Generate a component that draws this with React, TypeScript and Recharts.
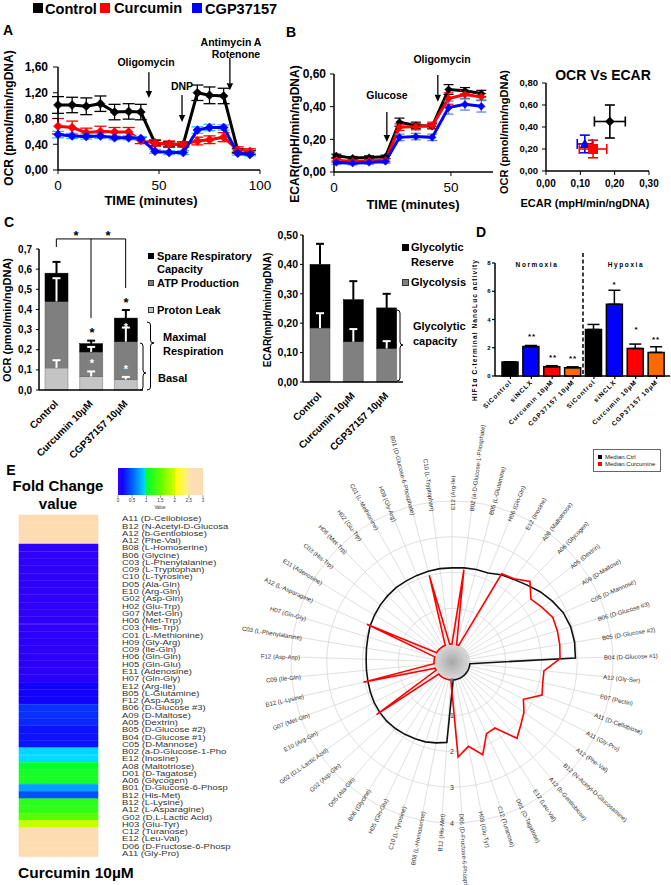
import React from 'react';
import {
  LineChart, Line, XAxis, YAxis, ErrorBar, ReferenceLine, ScatterChart, Scatter,
  BarChart, Bar, Cell, RadarChart, Radar, PolarGrid, PolarAngleAxis, PolarRadiusAxis,
} from 'recharts';

const FONT = '"Liberation Sans", Arial, Helvetica, sans-serif';

// ---------- Panel A : OCR time course ----------
const timeA = [0, 7, 14, 21, 28, 35, 41, 48, 55, 62, 69, 75, 82, 89, 95];
const ocrCtrl = [1.01, 1.01, 0.99, 1.03, 0.9, 0.91, 0.9, 0.42, 0.4, 0.4, 1.2, 1.16, 1.15, 0.3, 0.27];
const ocrCtrlErr = [0.13, 0.12, 0.13, 0.12, 0.12, 0.12, 0.12, 0.04, 0.04, 0.04, 0.12, 0.13, 0.12, 0.03, 0.03];
const ocrCur = [0.68, 0.66, 0.58, 0.6, 0.59, 0.59, 0.46, 0.42, 0.4, 0.4, 0.45, 0.47, 0.51, 0.31, 0.29];
const ocrCurErr = [0.12, 0.1, 0.07, 0.08, 0.07, 0.07, 0.05, 0.05, 0.05, 0.04, 0.06, 0.06, 0.07, 0.05, 0.04];
const ocrCgp = [0.55, 0.53, 0.52, 0.53, 0.5, 0.5, 0.49, 0.29, 0.27, 0.27, 0.62, 0.66, 0.66, 0.26, 0.24];
const ocrCgpErr = [0.05, 0.04, 0.04, 0.04, 0.03, 0.03, 0.03, 0.03, 0.03, 0.03, 0.05, 0.05, 0.04, 0.03, 0.02];
const ocrYTicks = [0, 0.2, 0.4, 0.6, 0.8, 1.0, 1.2, 1.4, 1.6];

// ---------- Panel B : ECAR time course ----------
const timeB = [1, 8, 15, 22, 28, 35, 42, 49, 56, 63];
const ecarCtrl = [0.099, 0.085, 0.089, 0.093, 0.305, 0.285, 0.28, 0.505, 0.497, 0.48];
const ecarCtrlErr = [0.01, 0.01, 0.01, 0.01, 0.025, 0.02, 0.015, 0.03, 0.02, 0.02];
const ecarCur = [0.072, 0.064, 0.068, 0.072, 0.274, 0.278, 0.285, 0.45, 0.474, 0.46];
const ecarCurErr = [0.01, 0.01, 0.01, 0.01, 0.02, 0.02, 0.02, 0.035, 0.025, 0.02];
const ecarCgp = [0.058, 0.054, 0.058, 0.064, 0.212, 0.217, 0.212, 0.394, 0.414, 0.402];
const ecarCgpErr = [0.01, 0.01, 0.01, 0.01, 0.02, 0.02, 0.02, 0.04, 0.035, 0.035];
const ecarYTicks = [0, 0.1, 0.2, 0.3, 0.4, 0.5, 0.6];

// ---------- OCR vs ECAR ----------
const scCtrl = [{ x: 0.186, y: 0.45, ex: 0.045, ey: 0.15 }];
const scCur = [{ x: 0.137, y: 0.2, ex: 0.04, ey: 0.08 }];
const scCgp = [{ x: 0.113, y: 0.246, ex: 0.022, ey: 0.08 }];

// ---------- Panel C : OCR stacked ----------
const cCats = ['Control', 'Curcumin 10µM', 'CGP37157 10µM'];
const ocrLeak = [0.11, 0.067, 0.052];
const ocrAtp = [0.33, 0.122, 0.188];
const ocrSpare = [0.14, 0.041, 0.117];
const ocrLeakErr = [0.038, 0.025, 0.013];
const ocrAtpErr = [0.115, 0.025, 0.07];
const ocrTotErr = [0.056, 0.015, 0.04];

// ---------- Panel C : ECAR stacked ----------
const glyc = [0.184, 0.137, 0.114];
const glycReserve = [0.216, 0.143, 0.138];
const glycErr = [0.05, 0.043, 0.025];
const glycTotErr = [0.07, 0.063, 0.048];

// ---------- Panel D ----------
const hifKeys = ['n1', 'n2', 'n3', 'n4', 'h1', 'h2', 'h3', 'h4'];
const hifLabels = ['SiControl', 'siNCLX', 'Curcumin 10µM', 'CGP37157 10µM', 'SiControl', 'siNCLX', 'Curcumin 10µM', 'CGP37157 10µM'];
const hifVals = [1.0, 2.08, 0.66, 0.59, 3.29, 5.08, 1.95, 1.67];
const hifErr = [0, 0.08, 0.07, 0.06, 0.36, 0.99, 0.31, 0.4];
const hifColors = ['#000000', '#0000ff', '#ff0000', '#ff6a00', '#000000', '#0000ff', '#ff0000', '#ff6a00'];

// ---------- Panel E : heatmap ----------
const heatNames = [
  'A11 (D-Cellobiose)', 'B12 (N-Acetyl-D-Glucosa', 'A12 (b-Gentiobiose)', 'A12 (Phe-Val)', 'B08 (L-Homoserine)',
  'B06 (Glycine)', 'C03 (L-Phenylalanine)', 'C09 (L-Tryptophan)', 'C10 (L-Tyrosine)', 'D05 (Ala-Gln)',
  'E10 (Arg-Gln)', 'G02 (Asp-Gln)', 'H02 (Glu-Trp)', 'G07 (Met-Gln)', 'H06 (Met-Trp)', 'C03 (His-Trp)',
  'C01 (L-Methionine)', 'H09 (Gly-Arg)', 'C09 (Ile-Gln)', 'H06 (Gln-Gln)', 'H05 (Gln-Glu)', 'E11 (Adenosine)',
  'H07 (Gln-Gly)', 'E12 (Arg-Ile)', 'B05 (L-Glutamine)', 'F12 (Asp-Asp)', 'B06 (D-Glucose #3)', 'A09 (D-Maltose)',
  'A05 (Dextrin)', 'B05 (D-Glucose #2)', 'B04 (D-Glucose #1)', 'C05 (D-Mannose)', 'B02 (a-D-Glucose-1-Pho',
  'E12 (Inosine)', 'A08 (Maltotriose)', 'D01 (D-Tagatose)', 'A06 (Glycogen)', 'B01 (D-Glucose-6-Phosp',
  'B12 (His-Met)', 'B12 (L-Lysine)', 'A12 (L-Asparagine)', 'G02 (D,L-Lactic Acid)', 'H03 (Glu-Tyr)',
  'C12 (Turanose)', 'E12 (Leu-Val)', 'D06 (D-Fructose-6-Phosp', 'A11 (Gly-Pro)',
];
const heatFold = [
  3, 3, 3, 3, 0.04, 0.04, 0.04, 0.04, 0.04, 0.04, 0.04, 0.04, 0.04, 0.04, 0.04, 0.04,
  0.05, 0.05, 0.05, 0.05, 0.05, 0.05, 0.06, 0.14, 0.14, 0.14, 0.33, 0.33, 0.3, 0.22, 0.22, 0.22,
  0.95, 0.97, 1.03, 1.1, 1.12, 0.75, 0.45, 1.22, 1.25, 1.45, 1.95, 3, 3, 3, 3,
];
const colorStops: [number, string][] = [
  [0, '#3a00f8'], [0.15, '#1000ff'], [0.5, '#0060ff'], [0.999, '#00e4ff'],
  [1.0, '#00ff30'], [1.5, '#60ff00'], [1.999, '#d0ff00'], [2.0, '#ffff00'],
  [2.45, '#fff080'], [2.5, '#fde0b5'], [3, '#fddcb2'],
];
const cbTicks = [0, 0.5, 1, 1.5, 2, 2.5, 3];

// ---------- Panel E : radar ----------
const radarNames = [
  'E12 (Arg-Ile)', 'B02 (a-D-Glucose-1-Phosphate)', 'B05 (L-Glutamine)', 'H06 (Gln-Gln)', 'E12 (Inosine)',
  'A08 (Maltotriose)', 'A06 (Glycogen)', 'A05 (Dextrin)', 'A09 (D-Maltose)', 'C05 (D-Mannose)',
  'B06 (D-Glucose #3)', 'B05 (D-Glucose #2)', 'B04 (D-Glucose #1)', 'A12 (Gly-Ser)', 'E07 (Pectin)',
  'A11 (D-Cellobiose)', 'A11 (Gly-Pro)', 'A12 (Phe-Val)', 'B12 (N-Acetyl-D-Glucosamine)', 'A12 (b-Gentiobiose)',
  'E12 (Leu-Val)', 'D01 (D-Tagatose)', 'C12 (Turanose)', 'H03 (Glu-Tyr)', 'D06 (D-Fructose-6-Phosphate)',
  'B12 (His-Met)', 'B08 (L-Homoserine)', 'C10 (L-Tyrosine)', 'H05 (Gln-Glu)', 'B06 (Glycine)', 'D05 (Ala-Gln)',
  'G02 (Asp-Gln)', 'G02 (D,L-Lactic Acid)', 'E10 (Arg-Gln)', 'G07 (Met-Gln)', 'B12 (L-Lysine)', 'C09 (Ile-Gln)',
  'F12 (Asp-Asp)', 'C03 (L-Phenylalanine)', 'H07 (Gln-Gly)', 'A12 (L-Asparagine)', 'E11 (Adenosine)',
  'C03 (His-Trp)', 'H06 (Met-Trp)', 'H02 (Glu-Trp)', 'C01 (L-Methionine)', 'H09 (Gly-Arg)',
  'B01 (D-Glucose-6-Phosphate)', 'C10 (L-Tryptophan)',
];
const medianCtrl = [
  2.13, 2.15, 2.17, 2.18, 2.3, 2.38, 2.5, 2.65, 2.78, 2.9, 2.96, 2.97, 2.95,
  0, 0, 0, 0, 0, 0, 0, 0, 0, 0, 0, 0,
  1.75, 1.8, 1.85, 1.88, 1.91, 1.94, 1.96, 1.96, 1.95, 1.93, 1.91, 1.9, 1.9, 1.92, 1.95, 2.0,
  2.03, 2.06, 2.08, 2.1, 2.1, 2.11, 2.12, 2.13,
];
const medianCur = [
  0, 2.1, 0, 0, 2.33, 2.4, 2.63, 2.32, 2.44, 2.58, 2.57, 2.55, 2.52, 2.08, 2.1, 2.18, 1.75, 1.95,
  2.1, 2.3, 1.7, 1.72, 2.23, 1.9, 2.16,
  0, 0, 0, 0, 0, 0, 0, 2.07, 0, 0, 2.04, 0, 0, 0, 0, 2.1, 0, 0, 0, 0, 0, 0, 2.0, 0,
];

// ---------- derived tables ----------
const dataA = timeA.map((t, i) => ({ t, ctrl: ocrCtrl[i], ctrlE: ocrCtrlErr[i], cur: ocrCur[i], curE: ocrCurErr[i], cgp: ocrCgp[i], cgpE: ocrCgpErr[i] }));
const dataB = timeB.map((t, i) => ({ t, ctrl: ecarCtrl[i], ctrlE: ecarCtrlErr[i], cur: ecarCur[i], curE: ecarCurErr[i], cgp: ecarCgp[i], cgpE: ecarCgpErr[i] }));
const dataOcr = cCats.map((name, i) => ({ name, leak: ocrLeak[i], atp: ocrAtp[i], spare: ocrSpare[i], leakE: ocrLeakErr[i], atpE: ocrAtpErr[i], totE: ocrTotErr[i] }));
const dataEcar = cCats.map((name, i) => ({ name, glyc: glyc[i], res: glycReserve[i], glycE: glycErr[i], totE: glycTotErr[i] }));
const dataHif = hifKeys.map((key, i) => ({ key, v: hifVals[i], e: hifErr[i] }));
const dataHeat = heatNames.map((name, i) => ({ name, fold: heatFold[i] }));
const dataRadar = radarNames.map((name, i) => ({ name, ctrl: medianCtrl[i], cur: medianCur[i] }));
const hifLabelOf: Record<string, string> = Object.fromEntries(hifKeys.map((k, i) => [k, hifLabels[i]]));

const hex = (c: string) => [1, 3, 5].map((o) => parseInt(c.slice(o, o + 2), 16));
function foldColor(v: number) {
  for (let i = 0; i < colorStops.length - 1; i++) {
    const [a, ca] = colorStops[i];
    const [b, cb] = colorStops[i + 1];
    if (v >= a && v <= b) {
      const t = b === a ? 0 : (v - a) / (b - a);
      const A = hex(ca), B = hex(cb);
      const m = A.map((x, k) => Math.round(x + (B[k] - x) * t));
      return `rgb(${m[0]},${m[1]},${m[2]})`;
    }
  }
  return colorStops[colorStops.length - 1][1];
}

const c2 = (v: number) => v.toFixed(2).replace('.', ',');
const c1 = (v: number) => v.toFixed(1).replace('.', ',');
const AX = { stroke: '#000', strokeWidth: 1.5 };
const boldTick = (size: number) => ({ fontSize: size, fontWeight: 700, fill: '#000', fontFamily: FONT });

// ---------- shapes ----------
const diamondDot = (color: string, r: number) => (p: any) => {
  const { cx, cy, index } = p;
  if (cx == null || cy == null) return <g key={`e${index}`} />;
  return <polygon key={`d${index}`} points={`${cx},${cy - r} ${cx + r},${cy} ${cx},${cy + r} ${cx - r},${cy}`} fill={color} stroke={color} strokeWidth={0.5} />;
};

const Arrow = (p: any) => {
  const { x1, y1, x2, y2 } = p;
  const ang = Math.atan2(y2 - y1, x2 - x1);
  const L = 7, W = 3.2;
  const bx = x2 - L * Math.cos(ang), by = y2 - L * Math.sin(ang);
  const px = -Math.sin(ang) * W, py = Math.cos(ang) * W;
  return (
    <g>
      <line x1={x1} y1={y1} x2={bx} y2={by} stroke="#000" strokeWidth={1.3} />
      <polygon points={`${x2},${y2} ${bx + px},${by + py} ${bx - px},${by - py}`} fill="#000" />
    </g>
  );
};

const DiamondShape = (p: any) => { const { cx, cy } = p; const r = 4.8; return <polygon points={`${cx},${cy - r} ${cx + r},${cy} ${cx},${cy + r} ${cx - r},${cy}`} fill="#000" />; };
const SquareShape = (p: any) => { const { cx, cy } = p; return <rect x={cx - 5} y={cy - 5} width={10} height={10} fill="#ff0000" />; };
const TriShape = (p: any) => { const { cx, cy } = p; return <polygon points={`${cx},${cy - 5.5} ${cx + 5},${cy + 4} ${cx - 5},${cy + 4}`} fill="#0000ff" />; };

const tee = (cx: number, y1: number, y2: number, color: string, k: string, half = 4) => (
  <g key={k}>
    <line x1={cx} x2={cx} y1={y1} y2={y2} stroke={color} strokeWidth={2} />
    <line x1={cx - half} x2={cx + half} y1={y2} y2={y2} stroke={color} strokeWidth={2} />
  </g>
);

const OcrTopShape = (p: any) => {
  const { x, y, width, height, payload } = p;
  const ppu = height / payload.spare;
  const top = payload.leak + payload.atp + payload.spare;
  const py = (v: number) => y + (top - v) * ppu;
  const cx = x + width / 2;
  const atpTop = payload.leak + payload.atp;
  return (
    <g>
      {tee(cx, py(top), py(top + payload.totE), '#000', 'a')}
      <rect x={x} y={y} width={width} height={height} fill="#000" stroke="#000" strokeWidth={0.5} />
      {tee(cx, py(atpTop), py(atpTop + payload.atpE), '#fff', 'b')}
      {tee(cx, py(payload.leak), py(payload.leak + payload.leakE), '#fff', 'c')}
    </g>
  );
};

const EcarTopShape = (p: any) => {
  const { x, y, width, height, payload } = p;
  const ppu = height / payload.res;
  const top = payload.glyc + payload.res;
  const py = (v: number) => y + (top - v) * ppu;
  const cx = x + width / 2;
  return (
    <g>
      {tee(cx, py(top), py(top + payload.totE), '#000', 'a')}
      <rect x={x} y={y} width={width} height={height} fill="#000" stroke="#000" strokeWidth={0.5} />
      {tee(cx, py(payload.glyc), py(payload.glyc + payload.glycE), '#fff', 'b')}
    </g>
  );
};

const rotTick = (size: number, ls = 0, map?: Record<string, string>) => (p: any) => {
  const label = map ? map[p.payload.value] : p.payload.value;
  return (
    <g transform={`translate(${p.x},${p.y})`}>
      <text x={0} y={0} dy={size * 0.35} textAnchor="end" transform="rotate(-45)" fontSize={size} fontWeight={700} fontFamily={FONT} letterSpacing={ls} fill="#000">{label}</text>
    </g>
  );
};

const HeatTick = (p: any) => (
  <text transform={`translate(${p.x + 11},${p.y}) scale(1.3,1)`} x={0} y={0} dy={2.6} textAnchor="start" fontSize={7.3} fill="#333" fontFamily={FONT}>{p.payload.value}</text>
);

const RadarTick = (p: any) => {
  let a = ((p.payload.coordinate % 360) + 360) % 360;
  if (a > 180) a -= 360;
  const rad = (a * Math.PI) / 180;
  const x0 = p.x - 17 * Math.cos(rad);
  const y0 = p.y + 17 * Math.sin(rad);
  const right = a >= -90 && a <= 90;
  const rot = right ? -a : 180 - a;
  return (
    <text x={x0} y={y0} transform={`rotate(${rot},${x0},${y0})`} textAnchor={right ? 'start' : 'end'} dominantBaseline="central" fontSize={6.1} fill="#333" fontFamily={FONT}>{p.payload.value}</text>
  );
};

const RadiusTick = (p: any) => (
  <text x={p.x} y={p.y} dy={2.5} textAnchor="middle" fontSize={7} fill={p.payload.value === 0 ? '#4a6a9a' : '#333'} fontFamily={FONT}>{p.payload.value}</text>
);

// ---------- text helper ----------
const Txt = ({ x, y, s, size = 12, bold = true, anchor = 'middle', rot = 0, color = '#000', ls = 0, family = FONT }: any) => {
  const tx = anchor === 'middle' ? '-50%' : anchor === 'end' ? '-100%' : '0%';
  return (
    <div style={{ position: 'absolute', left: x, top: y, transform: `translate(${tx}, -50%) rotate(${rot}deg)`, fontSize: size, fontWeight: bold ? 700 : 400, color, fontFamily: family, whiteSpace: 'nowrap', lineHeight: 1, letterSpacing: ls }}>{s}</div>
  );
};
const Sq = ({ x, y, w, h, c, b = 'none' }: any) => (
  <div style={{ position: 'absolute', left: x, top: y, width: w, height: h, background: c, border: b, boxSizing: 'border-box' }} />
);

const brace = (x: number, y1: number, y2: number, ym: number, w: number) => {
  const m = x + w / 2, r = 3;
  return `M ${x} ${y1} Q ${m} ${y1} ${m} ${y1 + r} L ${m} ${ym - r} Q ${m} ${ym} ${x + w} ${ym} Q ${m} ${ym} ${m} ${ym + r} L ${m} ${y2 - r} Q ${m} ${y2} ${x} ${y2}`;
};

const abs = (left: number, top: number) => ({ position: 'absolute' as const, left, top });

export default function App() {
  return (
    <div style={{ position: 'absolute', left: 0, top: 0, width: 671, height: 885, background: '#fff', overflow: 'hidden', fontFamily: FONT }}>
      <svg width={0} height={0} style={{ position: 'absolute' }}>
        <defs>
          <linearGradient id="cbg" x1="0" y1="0" x2="1" y2="0">
            {colorStops.map(([v, c], i) => <stop key={i} offset={v / 3} stopColor={c} />)}
          </linearGradient>
        </defs>
      </svg>

      {/* top legend */}
      <Sq x={33} y={3} w={10} h={10} c="#000" />
      <Txt x={45} y={9} s="Control" size={14.6} anchor="start" />
      <Sq x={100} y={3} w={10} h={10} c="#ff0000" />
      <Txt x={114} y={8} s="Curcumin" size={14.6} anchor="start" />
      <Sq x={192} y={3} w={10} h={10} c="#0000ff" />
      <Txt x={205} y={9} s="CGP37157" size={14.6} anchor="start" />

      {/* Panel A */}
      <div style={abs(0, 0)}>
        <LineChart width={280} height={215} data={dataA} margin={{ top: 67, right: 20, left: 0, bottom: 0 }}>
          <XAxis dataKey="t" type="number" domain={[0, 100]} ticks={[0, 50, 100]} height={45} tick={{ fontSize: 13.5, fill: '#000', fontFamily: FONT }} tickSize={4} tickMargin={6} axisLine={AX} tickLine={{ stroke: '#000' }} />
          <YAxis type="number" domain={[0, 1.6]} ticks={ocrYTicks} tickFormatter={c2} width={58} tick={boldTick(12)} tickSize={5} tickMargin={5} axisLine={AX} tickLine={{ stroke: '#000' }} />
          <Line dataKey="ctrl" stroke="#000" strokeWidth={3} dot={diamondDot('#000', 4.5)} isAnimationActive={false}>
            <ErrorBar dataKey="ctrlE" width={6} stroke="#000" strokeWidth={1.3} />
          </Line>
          <Line dataKey="cur" stroke="#ff0000" strokeWidth={3} dot={diamondDot('#ff0000', 4.5)} isAnimationActive={false}>
            <ErrorBar dataKey="curE" width={6} stroke="#ff0000" strokeWidth={1.3} />
          </Line>
          <Line dataKey="cgp" stroke="#0000ff" strokeWidth={3} dot={diamondDot('#0000ff', 4.5)} isAnimationActive={false}>
            <ErrorBar dataKey="cgpE" width={6} stroke="#33bbff" strokeWidth={1.3} />
          </Line>
          <ReferenceLine segment={[{ x: 45, y: 1.52 }, { x: 45, y: 1.12 }]} shape={Arrow} ifOverflow="visible" />
          <ReferenceLine segment={[{ x: 61.4, y: 1.165 }, { x: 61.4, y: 0.745 }]} shape={Arrow} ifOverflow="visible" />
          <ReferenceLine segment={[{ x: 85.1, y: 1.74 }, { x: 85.1, y: 1.24 }]} shape={Arrow} ifOverflow="visible" />
        </LineChart>
      </div>
      <Txt x={8} y={30} s="A" size={14} />
      <Txt x={9} y={118} s="OCR (pmol/min/ngDNA)" size={12} rot={-90} />
      <Txt x={151} y={200} s="TIME (minutes)" size={13} />
      <Txt x={146} y={62} s="Oligomycin" size={10.5} />
      <Txt x={182} y={86} s="DNP" size={10.5} />
      <Txt x={231} y={42} s="Antimycin A" size={10.5} />
      <Txt x={236} y={54} s="Rotenone" size={10.5} />

      {/* Panel B ECAR */}
      <div style={abs(280, 0)}>
        <LineChart width={230} height={215} data={dataB} margin={{ top: 74, right: 17, left: 0, bottom: 0 }}>
          <XAxis dataKey="t" type="number" domain={[0, 68]} ticks={[0, 50]} height={43} tick={{ fontSize: 13.5, fill: '#000', fontFamily: FONT }} tickSize={4} tickMargin={6} axisLine={AX} tickLine={{ stroke: '#000' }} />
          <YAxis type="number" domain={[0, 0.6]} ticks={ecarYTicks} tickFormatter={c2} width={54} tick={boldTick(12)} tickSize={4} tickMargin={4} axisLine={AX} tickLine={{ stroke: '#000' }} />
          <Line dataKey="ctrl" stroke="#000" strokeWidth={3} dot={diamondDot('#000', 3.8)} isAnimationActive={false}>
            <ErrorBar dataKey="ctrlE" width={5} stroke="#000" strokeWidth={1.2} />
          </Line>
          <Line dataKey="cur" stroke="#ff0000" strokeWidth={3} dot={diamondDot('#ff0000', 3.8)} isAnimationActive={false}>
            <ErrorBar dataKey="curE" width={5} stroke="#ff0000" strokeWidth={1.2} />
          </Line>
          <Line dataKey="cgp" stroke="#0000ff" strokeWidth={3} dot={diamondDot('#0000ff', 3.8)} isAnimationActive={false}>
            <ErrorBar dataKey="cgpE" width={5} stroke="#5a7dd8" strokeWidth={1.2} />
          </Line>
          <ReferenceLine segment={[{ x: 22.6, y: 0.367 }, { x: 22.6, y: 0.184 }]} shape={Arrow} ifOverflow="visible" />
          <ReferenceLine segment={[{ x: 44.4, y: 0.594 }, { x: 44.4, y: 0.43 }]} shape={Arrow} ifOverflow="visible" />
        </LineChart>
      </div>
      <Txt x={291} y={32} s="B" size={14} />
      <Txt x={295} y={134} s="ECAR(mpH/min/ngDNA)" size={12} rot={-90} />
      <Txt x={413} y={204} s="TIME (minutes)" size={13} />
      <Txt x={387} y={95} s="Glucose" size={10.5} />
      <Txt x={442} y={59} s="Oligomycin" size={10.5} />

      {/* OCR vs ECAR scatter */}
      <div style={abs(500, 60)}>
        <ScatterChart width={171} height={155} margin={{ top: 23, right: 22, left: 0, bottom: 0 }}>
          <XAxis type="number" dataKey="x" domain={[0, 0.3]} ticks={[0, 0.1, 0.2, 0.3]} tickFormatter={c2} height={44} tick={boldTick(10)} tickSize={4} tickMargin={5} axisLine={AX} tickLine={{ stroke: '#000' }} />
          <YAxis type="number" dataKey="y" domain={[0, 0.8]} ticks={[0, 0.2, 0.4, 0.6, 0.8]} tickFormatter={c2} width={46} tick={boldTick(9.5)} tickSize={4} tickMargin={4} axisLine={AX} tickLine={{ stroke: '#000' }} />
          <Scatter data={scCgp} shape={TriShape} isAnimationActive={false}>
            <ErrorBar dataKey="ex" direction="x" width={5} stroke="#0000ff" strokeWidth={1.6} />
            <ErrorBar dataKey="ey" direction="y" width={5} stroke="#0000ff" strokeWidth={1.6} />
          </Scatter>
          <Scatter data={scCur} shape={SquareShape} isAnimationActive={false}>
            <ErrorBar dataKey="ex" direction="x" width={5} stroke="#ff0000" strokeWidth={1.6} />
            <ErrorBar dataKey="ey" direction="y" width={5} stroke="#ff0000" strokeWidth={1.6} />
          </Scatter>
          <Scatter data={scCtrl} shape={DiamondShape} isAnimationActive={false}>
            <ErrorBar dataKey="ex" direction="x" width={5} stroke="#000" strokeWidth={1.6} />
            <ErrorBar dataKey="ey" direction="y" width={5} stroke="#000" strokeWidth={1.6} />
          </Scatter>
        </ScatterChart>
      </div>
      <Txt x={603} y={75} s="OCR Vs ECAR" size={14} />
      <Txt x={504} y={132} s="OCR (pmol/min/ngDNA)" size={11} rot={-90} />
      <Txt x={585} y={203} s="ECAR (mpH/min/ngDNA)" size={11} />

      {/* Panel C OCR stacked */}
      <div style={abs(0, 225)}>
        <BarChart width={260} height={245} data={dataOcr} margin={{ top: 24, right: 117, left: 0, bottom: 0 }} barSize={23}>
          <XAxis dataKey="name" interval={0} height={80} tick={rotTick(10)} tickLine={false} tickMargin={6} axisLine={AX} />
          <YAxis type="number" domain={[0, 0.7]} ticks={[0, 0.1, 0.2, 0.3, 0.4, 0.5, 0.6, 0.7]} tickFormatter={c1} width={39} tick={boldTick(10)} tickSize={3} tickMargin={4} axisLine={AX} tickLine={{ stroke: '#000' }} />
          <Bar dataKey="leak" stackId="a" fill="#c4c4c4" stroke="#777" strokeWidth={0.5} isAnimationActive={false} />
          <Bar dataKey="atp" stackId="a" fill="#7f7f7f" stroke="#555" strokeWidth={0.5} isAnimationActive={false} />
          <Bar dataKey="spare" stackId="a" fill="#000" shape={OcrTopShape} isAnimationActive={false} />
          <ReferenceLine segment={[{ x: 'Control', y: 0.75 }, { x: 'CGP37157 10µM', y: 0.75 }]} stroke="#000" strokeWidth={1} ifOverflow="visible" />
          <ReferenceLine segment={[{ x: 'Control', y: 0.75 }, { x: 'Control', y: 0.71 }]} stroke="#000" strokeWidth={1} ifOverflow="visible" />
          <ReferenceLine segment={[{ x: 'Curcumin 10µM', y: 0.75 }, { x: 'Curcumin 10µM', y: 0.357 }]} stroke="#000" strokeWidth={1} ifOverflow="visible" />
          <ReferenceLine segment={[{ x: 'CGP37157 10µM', y: 0.75 }, { x: 'CGP37157 10µM', y: 0.506 }]} stroke="#000" strokeWidth={1} ifOverflow="visible" />
        </BarChart>
      </div>
      <Txt x={9} y={222} s="C" size={14} />
      <Txt x={7} y={320} s="OCR (pmol/min/ngDNA)" size={11} rot={-90} />
      <Txt x={76} y={235} s="*" size={13} />
      <Txt x={108} y={235} s="*" size={13} />
      <Txt x={92} y={332} s="*" size={13} />
      <Txt x={126} y={302} s="*" size={13} />
      <Txt x={92} y={363} s="*" size={11} color="#fff" />
      <Txt x={126} y={327} s="*" size={11} color="#fff" />
      <Txt x={126} y={369} s="*" size={11} color="#fff" />
      <Sq x={148} y={253} w={6} h={6} c="#000" />
      <Txt x={157} y={256} s="Spare Respiratory" size={11} anchor="start" />
      <Txt x={157} y={269} s="Capacity" size={11} anchor="start" />
      <Sq x={148} y={280} w={6} h={6} c="#7f7f7f" b="0.5px solid #333" />
      <Txt x={157} y={283} s="ATP Production" size={11} anchor="start" />
      <Sq x={148} y={307} w={6} h={6} c="#c4c4c4" b="0.5px solid #333" />
      <Txt x={157} y={310} s="Proton Leak" size={11} anchor="start" />
      <Txt x={163} y={337} s="Maximal" size={11} anchor="start" />
      <Txt x={163} y={351} s="Respiration" size={11} anchor="start" />
      <Txt x={158} y={378} s="Basal" size={11} anchor="start" />

      {/* Panel C ECAR stacked */}
      <div style={abs(250, 220)}>
        <BarChart width={230} height={245} data={dataEcar} margin={{ top: 15, right: 77, left: 0, bottom: 0 }} barSize={20}>
          <XAxis dataKey="name" interval={0} height={83} tick={rotTick(10)} tickLine={false} tickMargin={6} axisLine={AX} />
          <YAxis type="number" domain={[0, 0.5]} ticks={[0, 0.05, 0.1, 0.15, 0.2, 0.25, 0.3, 0.35, 0.4, 0.45, 0.5]} tickFormatter={c2} width={53} tick={boldTick(10.5)} tickSize={3} tickMargin={2} axisLine={AX} tickLine={{ stroke: '#000' }} />
          <Bar dataKey="glyc" stackId="a" fill="#808080" stroke="#555" strokeWidth={0.5} isAnimationActive={false} />
          <Bar dataKey="res" stackId="a" fill="#000" shape={EcarTopShape} isAnimationActive={false} />
        </BarChart>
      </div>
      <Txt x={268} y={310} s="ECAR(mpH/min/ngDNA)" size={10} rot={-90} />
      <Sq x={402} y={244} w={7} h={7} c="#000" />
      <Txt x={411} y={247} s="Glycolytic" size={11} anchor="start" />
      <Txt x={411} y={262} s="Reserve" size={11} anchor="start" />
      <Sq x={402} y={279} w={7} h={7} c="#808080" b="0.5px solid #333" />
      <Txt x={411} y={282} s="Glycolysis" size={11} anchor="start" />
      <Txt x={413} y={326} s="Glycolytic" size={11} anchor="start" />
      <Txt x={413} y={341} s="capacity" size={11} anchor="start" />

      {/* Panel D */}
      <div style={abs(470, 240)}>
        <BarChart width={201} height={215} data={dataHif} margin={{ top: 23, right: 1, left: 0, bottom: 0 }} barSize={16}>
          <XAxis dataKey="key" interval={0} height={79} padding={{ left: 5, right: 3 }} tick={rotTick(6.5, 0.9, hifLabelOf)} tickSize={3} tickMargin={2} axisLine={AX} tickLine={{ stroke: '#000', strokeWidth: 1.2 }} />
          <YAxis type="number" domain={[0, 8]} ticks={[0, 2, 4, 6, 8]} width={25} tick={boldTick(6)} tickSize={3} tickMargin={1.5} axisLine={AX} tickLine={{ stroke: '#000', strokeWidth: 1.2 }} />
          <Bar dataKey="v" stroke="#000" strokeWidth={1.5} isAnimationActive={false}>
            {hifColors.map((c, i) => <Cell key={i} fill={c} />)}
            <ErrorBar dataKey={(d: any) => [0, d.e]} width={6} stroke="#000" strokeWidth={1.5} />
          </Bar>
        </BarChart>
      </div>
      <Txt x={481} y={232} s="D" size={14} />
      <Txt x={475} y={330} s="HIF1α C-terminal NanoLuc activity" size={6.5} rot={-90} ls={1.1} />
      <Txt x={537} y={265} s="Normoxia" size={6.5} ls={1.6} />
      <Txt x={626} y={265} s="Hypoxia" size={6.5} ls={1.6} />
      <Txt x={532} y={337} s="**" size={8} ls={1} />
      <Txt x={553} y={358} s="**" size={8} ls={1} />
      <Txt x={573} y={359} s="**" size={8} ls={1} />
      <Txt x={614} y={285} s="*" size={8} />
      <Txt x={636} y={330} s="*" size={8} />
      <Txt x={656} y={340} s="**" size={8} ls={1} />

      {/* Panel E heatmap */}
      <Txt x={11} y={470} s="E" size={14} />
      <Txt x={58} y={485} s="Fold Change" size={15} />
      <Txt x={58} y={503} s="value" size={15} />
      <div style={abs(113, 468)}>
        <BarChart layout="vertical" width={95} height={45} data={[{ name: 'Value', max: 3 }]} margin={{ top: 0, right: 5, left: 5, bottom: 0 }} barCategoryGap={0}>
          <XAxis type="number" domain={[0, 3]} ticks={cbTicks} height={18} tick={{ fontSize: 4.5, fill: '#333', fontFamily: FONT }} tickSize={3} tickMargin={0.5} axisLine={false} tickLine={{ stroke: '#444', strokeWidth: 0.5 }} />
          <YAxis type="category" dataKey="name" hide />
          <Bar dataKey="max" fill="url(#cbg)" isAnimationActive={false} />
        </BarChart>
      </div>
      <Txt x={160} y={508} s="Value" size={4.5} bold={false} color="#333" />
      <div style={abs(10, 513)}>
        <BarChart layout="vertical" width={240} height={346} data={dataHeat} margin={{ top: 2, right: 0, left: 9, bottom: 2 }} barCategoryGap={0}>
          <XAxis type="number" domain={[0, 1]} hide />
          <YAxis type="category" dataKey="name" orientation="right" width={152} interval={0} tick={HeatTick} tickLine={false} axisLine={false} tickSize={0} tickMargin={13} allowDuplicatedCategory />
          <Bar dataKey={() => 1} isAnimationActive={false}>
            {heatFold.map((v, i) => <Cell key={i} fill={foldColor(v)} stroke={foldColor(v)} strokeWidth={0.6} />)}
          </Bar>
        </BarChart>
      </div>
      <Txt x={18} y={873} s="Curcumin 10µM" size={15.5} anchor="start" />

      {/* Radar */}
      <div style={{ position: 'absolute', left: 434, top: 644, width: 36, height: 36, borderRadius: '50%', background: 'radial-gradient(circle, #a8a8a8 0%, #cfcfcf 55%, #ececec 100%)' }} />
      <div style={abs(230, 405)}>
        <RadarChart width={441} height={480} data={dataRadar} cx={222} cy={257} innerRadius={18} outerRadius={161} startAngle={90} endAngle={-270} margin={{ top: 0, right: 0, bottom: 0, left: 0 }}>
          <PolarGrid gridType="circle" stroke="#d2d2d2" strokeWidth={0.7} />
          <PolarAngleAxis dataKey="name" tick={RadarTick} tickLine={false} tickSize={8} axisLine={false} />
          <PolarRadiusAxis angle={-90} domain={[0, 4]} tickCount={5} axisLine={false} tick={RadiusTick} />
          <Radar dataKey="ctrl" stroke="#111" strokeWidth={1.6} fill="none" fillOpacity={0} dot={false} isAnimationActive={false} />
          <Radar dataKey="cur" stroke="#ff0000" strokeWidth={1.6} fill="none" fillOpacity={0} dot={false} isAnimationActive={false} />
        </RadarChart>
      </div>
      <div style={{ position: 'absolute', left: 593, top: 449, width: 68, height: 23, border: '1px solid #666', boxSizing: 'border-box', background: '#fff' }} />
      <Sq x={598} y={455} w={3.5} h={3.5} c="#000" />
      <Txt x={605} y={457} s="Median.Ctrl" size={6} bold={false} color="#222" anchor="start" />
      <Sq x={598} y={462} w={3.5} h={3.5} c="#ff0000" />
      <Txt x={605} y={464} s="Median.Curcumine" size={6} bold={false} color="#222" anchor="start" />

      {/* braces and divider */}
      <svg width={671} height={885} style={{ position: 'absolute', left: 0, top: 0, pointerEvents: 'none' }}>
        <path d={brace(147, 322, 390, 343, 7)} fill="none" stroke="#000" strokeWidth={1} />
        <path d={brace(140, 343, 390, 373, 6)} fill="none" stroke="#000" strokeWidth={1} />
        <path d={brace(397, 310, 381, 345, 6)} fill="none" stroke="#000" strokeWidth={1} />
        <line x1={583} y1={253} x2={583} y2={376} stroke="#000" strokeWidth={1.5} strokeDasharray="4 2.5" />
      </svg>
    </div>
  );
}
